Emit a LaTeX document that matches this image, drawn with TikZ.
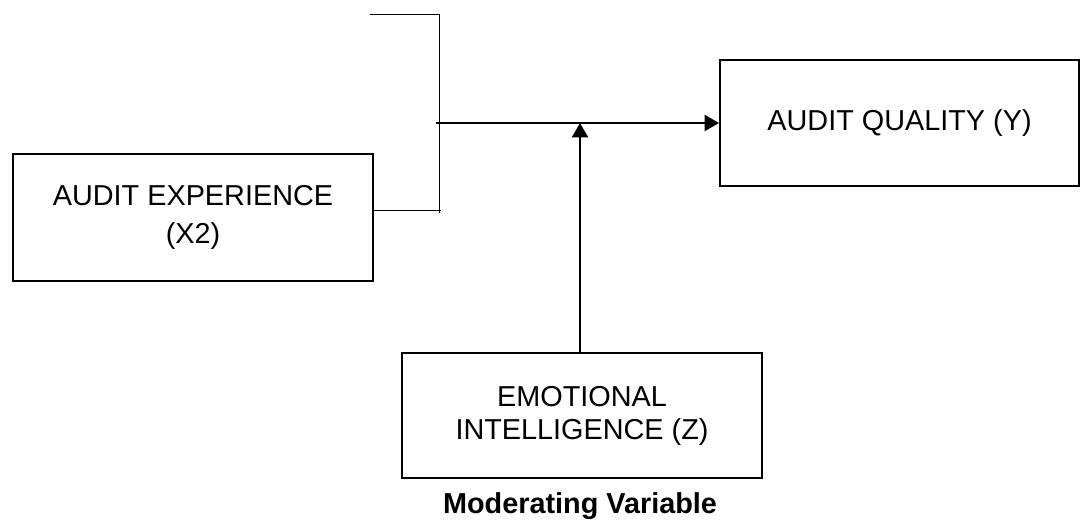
\documentclass[tikz,border=0pt]{standalone}
\usepackage{fontspec}
\setmainfont{Liberation Sans}
\usetikzlibrary{positioning,calc,arrows.meta}

\begin{document}
\begin{tikzpicture}[
        varbox/.style={rectangle,draw=black,line width=1.1pt,align=center,inner sep=0pt,font=\fontsize{16.4}{18.8}\selectfont},
        flow/.style={line width=1.5pt,-{Triangle[length=2.9mm,width=3.2mm]}},
        bracket/.style={line width=0.7pt}
    ]
        \useasboundingbox (0,0) rectangle (21.6,-10.6);

        \node[varbox,minimum width=7.2cm,minimum height=2.54cm] (experience) at (3.86,-4.35) {AUDIT EXPERIENCE\\[0.1cm](X2)};
        \node[varbox,minimum width=7.18cm,minimum height=2.52cm] (quality) at (17.99,-2.46) {AUDIT QUALITY (Y)};
        \node[varbox,minimum width=7.2cm,minimum height=2.5cm] (emotional) at (11.64,-8.31) {EMOTIONAL\\INTELLIGENCE (Z)};
        \node[font=\fontsize{16.4}{18.8}\selectfont\bfseries] (moderating) at (11.6,-10.12) {Moderating Variable};

        \coordinate (brackettop) at (8.79,-0.29);
        \coordinate (bracketbot) at (8.79,-4.21);
        \coordinate (join) at (8.72,-2.46);

        % bracket joining the independent variables
        \draw[bracket] ($(brackettop)+(-1.39,0)$) -- (brackettop) -- ($(bracketbot)+(0,-0.04)$);
        \draw[bracket] (experience.east |- bracketbot) -- ($(bracketbot)+(0.02,0)$);

        \draw[flow] (join) -- (quality.west);
        \draw[flow] (emotional.north -| 11.6,0) -- (11.6,0 |- join);
    \end{tikzpicture}
\end{document}
